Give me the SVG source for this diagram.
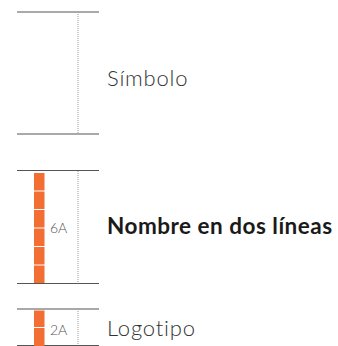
<svg xmlns="http://www.w3.org/2000/svg" width="338" height="346" viewBox="0 0 338 346">
<style>
.rule{stroke:#555;stroke-width:1.2;fill:none}
.dot{stroke:#999;stroke-width:1;stroke-dasharray:1 1;fill:none}
.bar{fill:#F26E32}
.lbl{font-family:Lato,"Open Sans",sans-serif;font-weight:300;font-size:22px;letter-spacing:0.8px;fill:#333}
.small{font-family:Lato,"Open Sans",sans-serif;font-weight:300;font-size:14px;fill:#555}
.bold{font-family:Lato,"Open Sans",sans-serif;font-weight:700;font-size:22.5px;letter-spacing:0.5px;fill:#1a1a1a}
</style>
<g id="simbolo">
<line class="rule" x1="17" y1="12" x2="99" y2="12"/>
<line class="rule" x1="17" y1="134" x2="99" y2="134"/>
<line class="dot" x1="78" y1="12" x2="78" y2="134"/>
<text class="lbl" x="107" y="86">Símbolo</text>
</g>
<g id="nombre">
<line class="rule" x1="17" y1="170.5" x2="99" y2="170.5"/>
<line class="rule" x1="17" y1="283.5" x2="99" y2="283.5"/>
<line class="dot" x1="78" y1="171" x2="78" y2="283"/>
<rect class="bar" x="34" y="173" width="10.5" height="17.5"/>
<rect class="bar" x="34" y="191.5" width="10.5" height="17.5"/>
<rect class="bar" x="34" y="210" width="10.5" height="17.5"/>
<rect class="bar" x="34" y="228.5" width="10.5" height="17.5"/>
<rect class="bar" x="34" y="247" width="10.5" height="17.5"/>
<rect class="bar" x="34" y="265.5" width="10.5" height="17.5"/>
<text class="small" x="50" y="233">6A</text>
<text class="bold" x="107" y="234">Nombre en dos líneas</text>
</g>
<g id="logotipo">
<line class="rule" x1="17" y1="309" x2="99" y2="309"/>
<line class="rule" x1="17" y1="345.5" x2="99" y2="345.5"/>
<line class="dot" x1="78" y1="309" x2="78" y2="345"/>
<rect class="bar" x="34" y="310.5" width="10.5" height="16.5"/>
<rect class="bar" x="34" y="328" width="10.5" height="18"/>
<text class="small" x="50" y="335">2A</text>
<text class="lbl" x="107" y="336">Logotipo</text>
</g>
</svg>
